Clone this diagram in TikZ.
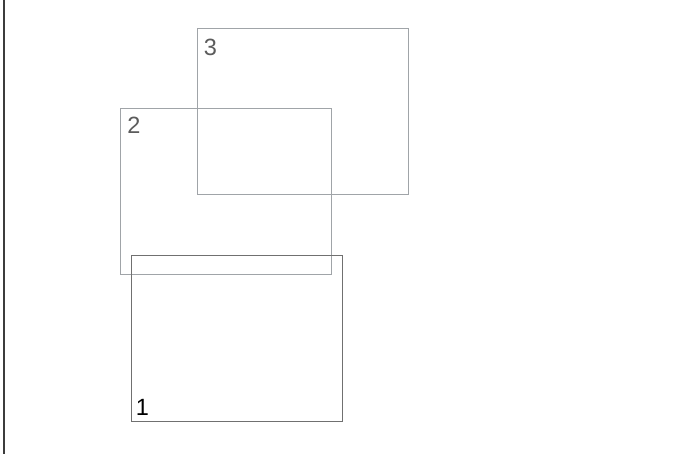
\documentclass[tikz,border=0pt]{standalone}
\usepackage{fontspec}
\setmainfont{Liberation Sans}
\usetikzlibrary{positioning}
\definecolor{frameGrey}{HTML}{A0A4A8}
\definecolor{frameDark}{HTML}{707070}
\definecolor{tagGrey}{HTML}{5C5C5C}
\definecolor{edgeDark}{HTML}{3C3C3C}

\begin{document}
\begin{tikzpicture}[
    x=1pt, y=-1pt,
    frame/.style={rectangle, draw=frameGrey, line width=0.8pt,
                  minimum width=211pt, minimum height=166pt, inner sep=0pt},
    framefront/.style={frame, draw=frameDark},
    tag/.style={font=\fontsize{23.5}{24}\selectfont, text=tagGrey, inner sep=0pt},
  ]
    \useasboundingbox (0,0) rectangle (700,454);
    \fill[white] (0,0) rectangle (700,454);
    \draw[edgeDark, line width=2.6pt] (4,0) -- (4,454);

    \node[frame] (r3) at (302.5,111.5) {};
    \node[frame] (r2) at (226,191.5) {};
    \node[framefront] (r1) at (237,338.5) {};

    \node[tag, anchor=north west] at ([xshift=7pt, yshift=-11pt]r3.north west) {3};
    \node[tag, anchor=north west] at ([xshift=7pt, yshift=-9pt]r2.north west) {2};
    \node[tag, text=black, anchor=south west] at ([xshift=4.5pt, yshift=6pt]r1.south west) {1};
  \end{tikzpicture}
\end{document}
